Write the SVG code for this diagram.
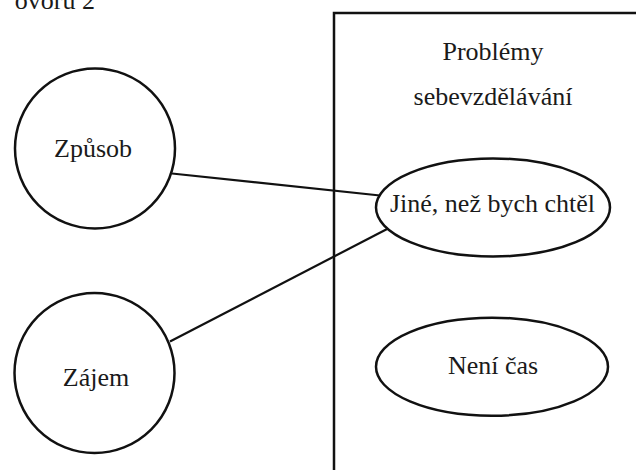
<svg xmlns="http://www.w3.org/2000/svg" width="636" height="470" viewBox="0 0 636 470">
<style>
.shape{fill:#fff;stroke:#111;stroke-width:2.5}
.conn line{stroke:#111;stroke-width:2.2}
text{font-family:'Liberation Serif','Times New Roman','DejaVu Serif',serif;font-size:26px;fill:#1a1a1a}
.c{text-anchor:middle}
</style>
<rect width="636" height="470" fill="#fff"/>
<text x="95" y="9" text-anchor="end">ovoru 2</text>
<g id="problemy">
<rect class="shape" x="334" y="13" width="320" height="480"/>
<text class="c" x="493" y="60">Problémy</text>
<text class="c" x="493" y="105">sebevzdělávání</text>
</g>
<g class="conn">
<line x1="172" y1="173.5" x2="380" y2="195.5"/>
<line x1="170" y1="341.5" x2="390" y2="227.5"/>
</g>
<g id="zpusob">
<circle class="shape" cx="95" cy="148.5" r="80"/>
<text class="c" x="93" y="157">Způsob</text>
</g>
<g id="zajem">
<circle class="shape" cx="94.5" cy="373" r="80"/>
<text class="c" x="96" y="386">Zájem</text>
</g>
<g id="jine">
<ellipse class="shape" cx="493" cy="207.5" rx="117" ry="49"/>
<text class="c" x="492.5" y="212">Jiné, než bych chtěl</text>
</g>
<g id="neni">
<ellipse class="shape" cx="492" cy="366.7" rx="116" ry="49"/>
<text class="c" x="493" y="374">Není čas</text>
</g>
</svg>
